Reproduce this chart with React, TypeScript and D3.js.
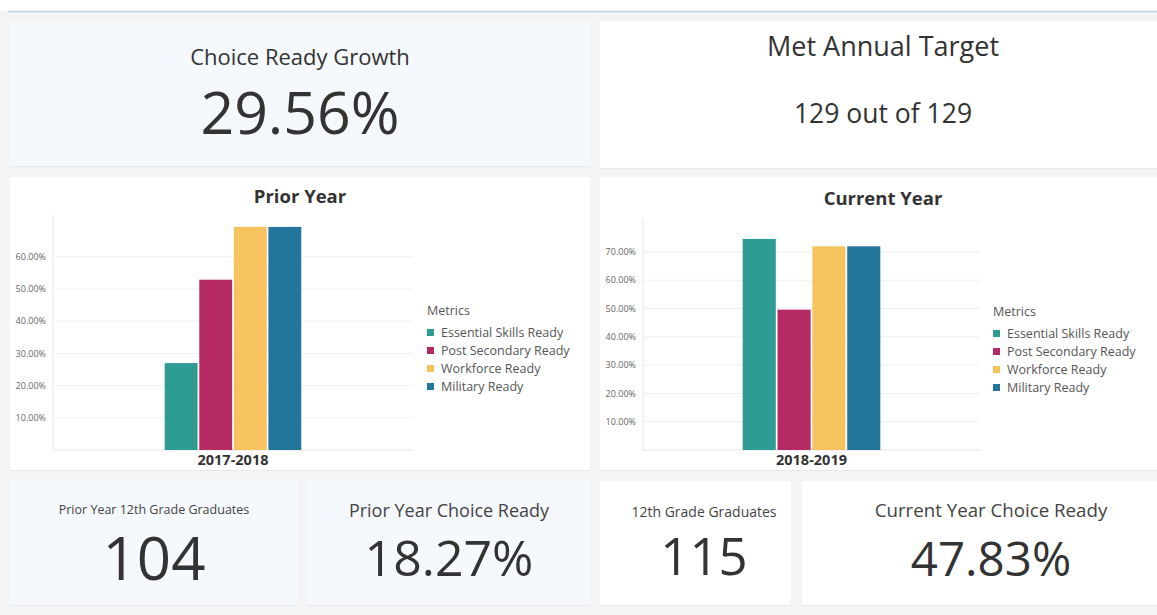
import React from "react";
import * as d3 from "d3";

const metrics = ["Essential Skills Ready", "Post Secondary Ready", "Workforce Ready", "Military Ready"];
const metricColors = ["#2f9c93", "#b52a63", "#f6c35f", "#23759b"];

const priorYear = ["2017-2018"];
const priorValues = [0.27, 0.529, 0.693, 0.693];
const priorTicks = [0.1, 0.2, 0.3, 0.4, 0.5, 0.6];

const currentYear = ["2018-2019"];
const currentValues = [0.746, 0.496, 0.72, 0.72];
const currentTicks = [0.1, 0.2, 0.3, 0.4, 0.5, 0.6, 0.7];

const FONT = "'Open Sans', 'Noto Sans', sans-serif";
const TEXT = "#333333";

type ChartProps = {
  x: number; y: number; w: number; h: number;
  title: string; titleX: number; titleY: number;
  plotL: number; plotR: number; plotT: number; plotB: number;
  yMax: number; ticks: number[]; values: number[]; year: string[];
  pad: number; legendX: number; legendY: number;
};

function BarPanel(p: ChartProps) {
  const yS = d3.scaleLinear().domain([0, p.yMax]).range([p.plotB, p.plotT]);
  const xOuter = d3.scaleBand<string>().domain(p.year).range([p.plotL, p.plotR]).padding(p.pad);
  const xInner = d3.scaleBand<string>().domain(metrics).range([0, xOuter.bandwidth()]).paddingInner(0.05);
  const fmt = d3.format(".2%");
  return (
    <g>
      <rect x={p.x} y={p.y} width={p.w} height={p.h} fill="#ffffff" />
      <text x={p.titleX} y={p.titleY} textAnchor="middle" fontFamily={FONT} fontWeight={700} fontSize={18.5} fill={TEXT}>{p.title}</text>
      {p.ticks.map((t) => (
        <g key={t}>
          <line x1={p.plotL} x2={p.plotR} y1={yS(t)} y2={yS(t)} stroke="#f0f0f0" strokeWidth={1} />
          <text x={p.plotL - 7} y={yS(t)} dy="0.35em" textAnchor="end" fontFamily={FONT} fontSize={9} fill="#666">{fmt(t)}</text>
        </g>
      ))}
      <line x1={p.plotL} x2={p.plotL} y1={p.plotT} y2={p.plotB} stroke="#e6e6e6" />
      <line x1={p.plotL} x2={p.plotR} y1={p.plotB} y2={p.plotB} stroke="#e6e6e6" />
      {p.year.map((yr) => (
        <g key={yr}>
          {metrics.map((m, i) => (
            <rect key={m} x={(xOuter(yr) as number) + (xInner(m) as number)} y={yS(p.values[i])}
              width={xInner.bandwidth()} height={p.plotB - yS(p.values[i])} fill={metricColors[i]} />
          ))}
          <text x={(xOuter(yr) as number) + xOuter.bandwidth() / 2} y={p.plotB + 15} textAnchor="middle"
            fontFamily={FONT} fontWeight={700} fontSize={14.5} fill={TEXT}>{yr}</text>
        </g>
      ))}
      <text x={p.legendX} y={p.legendY} fontFamily={FONT} fontSize={12.5} fill="#555">Metrics</text>
      {metrics.map((m, i) => (
        <g key={m}>
          <rect x={p.legendX} y={p.legendY + 14 + i * 18} width={7} height={7} fill={metricColors[i]} />
          <text x={p.legendX + 14} y={p.legendY + 18 + i * 18} dy="0.35em" fontFamily={FONT} fontSize={12.5} fill="#555">{m}</text>
        </g>
      ))}
    </g>
  );
}

function Card({ x, y, w, h, fill, children }: any) {
  return (
    <g>
      <rect x={x} y={y + 1} width={w} height={h} fill="#e9e9e9" />
      <rect x={x} y={y} width={w} height={h} fill={fill} />
      {children}
    </g>
  );
}

export default function App() {
  return (
    <svg width={1157} height={615} style={{ position: "absolute", left: 0, top: 0 }}>
      <rect x={0} y={0} width={1157} height={615} fill="#f4f4f4" />
      <rect x={0} y={0} width={1157} height={11} fill="#ffffff" />
      <line x1={8} x2={1157} y1={11.5} y2={11.5} stroke="#b9d0e8" strokeWidth={1.5} />

      <Card x={10} y={21} w={580} h={145} fill="#f5f8fc">
        <text x={300} y={65} textAnchor="middle" fontFamily={FONT} fontSize={22} fill={TEXT}>Choice Ready Growth</text>
        <text x={300} y={134} textAnchor="middle" fontFamily={FONT} fontSize={59} fill={TEXT}>29.56%</text>
      </Card>
      <Card x={600} y={21} w={557} h={147} fill="#ffffff">
        <text x={883} y={56} textAnchor="middle" fontFamily={FONT} fontSize={27} fill={TEXT}>Met Annual Target</text>
        <text x={883} y={123} textAnchor="middle" fontFamily={FONT} fontSize={26.5} fill={TEXT}>129 out of 129</text>
      </Card>

      <Card x={10} y={177} w={580} h={293} fill="#ffffff">
        <BarPanel x={10} y={177} w={580} h={293} title="Prior Year" titleX={300} titleY={203}
          plotL={53} plotR={413} plotT={215} plotB={450} yMax={0.73} ticks={priorTicks} pad={0.45}
          values={priorValues} year={priorYear} legendX={427} legendY={315} />
      </Card>
      <Card x={600} y={177} w={557} h={293} fill="#ffffff">
        <BarPanel x={600} y={177} w={557} h={293} title="Current Year" titleX={883} titleY={205}
          plotL={643} plotR={980} plotT={218} plotB={450} yMax={0.82} ticks={currentTicks} pad={0.42}
          values={currentValues} year={currentYear} legendX={993} legendY={316} />
      </Card>

      <Card x={10} y={481} w={288} h={124} fill="#f5f8fc">
        <text x={154} y={514} textAnchor="middle" fontFamily={FONT} fontSize={12.5} fill="#444">Prior Year 12th Grade Graduates</text>
        <text x={154} y={580} textAnchor="middle" fontFamily={FONT} fontSize={60} fill={TEXT}>104</text>
      </Card>
      <Card x={307} y={481} w={283} h={124} fill="#f5f8fc">
        <text x={449} y={517} textAnchor="middle" fontFamily={FONT} fontSize={18} fill="#444">Prior Year Choice Ready</text>
        <text x={449} y={576} textAnchor="middle" fontFamily={FONT} fontSize={50} fill={TEXT}>18.27%</text>
      </Card>
      <Card x={600} y={481} w={191} h={124} fill="#ffffff">
        <text x={704} y={517} textAnchor="middle" fontFamily={FONT} fontSize={14} fill="#444">12th Grade Graduates</text>
        <text x={704} y={575} textAnchor="middle" fontFamily={FONT} fontSize={51} fill={TEXT}>115</text>
      </Card>
      <Card x={802} y={481} w={355} h={124} fill="#ffffff">
        <text x={991} y={517} textAnchor="middle" fontFamily={FONT} fontSize={18.7} fill="#444">Current Year Choice Ready</text>
        <text x={991} y={576} textAnchor="middle" fontFamily={FONT} fontSize={47.5} fill={TEXT}>47.83%</text>
      </Card>
    </svg>
  );
}
